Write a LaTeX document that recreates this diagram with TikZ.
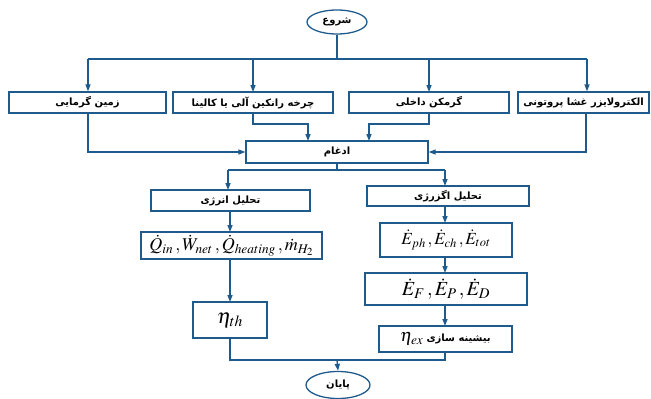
\documentclass[tikz,border=0pt]{standalone}
\usepackage{mathptmx}
\usepackage{fontspec}
\usetikzlibrary{shapes.geometric,arrows.meta}
\TeXXeTstate=1
\newfontfamily\fa[Script=Arabic]{DejaVu Sans}
\definecolor{lineblue}{HTML}{1F5A8C}
\newcommand{\fatext}[1]{{\fa\bfseries\fontsize{10}{12}\selectfont\beginR #1\endR}}
\tikzset{
  box/.style={draw=lineblue, line width=1.3pt, rectangle, inner sep=0pt, anchor=center},
  term/.style={draw=lineblue, line width=1.3pt, ellipse, inner sep=0pt},
  conn/.style={draw=lineblue, line width=1.3pt},
  arr/.style={conn, -{Triangle[length=7pt,width=5pt]}}
}
\begin{document}
\begin{tikzpicture}[x=1pt,y=-1pt]
\useasboundingbox (0,0) rectangle (651,399);
% terminals
\node[term, minimum width=60pt, minimum height=24pt] (start) at (337,22) {\fatext{شروع}};
\node[term, minimum width=64pt, minimum height=27pt] (finish) at (338,385) {\fatext{پایان}};
% top row
\node[box, minimum width=157pt, minimum height=21pt] (b1) at (87.5,102.5) {\fatext{زمین گرمایی}};
\node[box, minimum width=160pt, minimum height=21pt] (b2) at (253,102.5) {\fatext{چرخه رانکین آلی یا کالینا}};
\node[box, minimum width=160pt, minimum height=21pt] (b3) at (429,102.5) {\fatext{گرمکن داخلی}};
\node[box, minimum width=131pt, minimum height=21pt] (b4) at (583.5,102.5) {\fatext{الکترولایزر غشا پروتونی}};
% merge
\node[box, minimum width=182pt, minimum height=22pt] (merge) at (337,152) {\fatext{ادغام}};
% analyses
\node[box, minimum width=159pt, minimum height=21pt] (energy) at (230.5,200.5) {\fatext{تحلیل انرژی}};
\node[box, minimum width=162pt, minimum height=20pt] (exergy) at (448,196) {\fatext{تحلیل اگزرژی}};
\node[box, font=\fontsize{18}{20}\selectfont, minimum width=181pt, minimum height=27pt] (qbox) at (231.5,245.5) {$\dot{Q}_{in}\,,\dot{W}_{net}\,,\dot{Q}_{heating}\,,\dot{m}_{H_2}$};
\node[box, font=\fontsize{21}{23}\selectfont, minimum width=74pt, minimum height=36pt] (etath) at (230,320) {$\eta_{th}$};
\node[box, font=\fontsize{17}{19}\selectfont, minimum width=132pt, minimum height=34pt] (ebox) at (446,240) {$\dot{E}_{ph}\,,\dot{E}_{ch}\,,\dot{E}_{tot}$};
\node[box, font=\fontsize{20}{22}\selectfont, minimum width=162pt, minimum height=32pt] (efbox) at (446,289) {$\dot{E}_{F}\,,\dot{E}_{P}\,,\dot{E}_{D}$};
\node[box, minimum width=133pt, minimum height=26pt] (etaex) at (445.5,339) {{\fontsize{18}{20}\selectfont$\eta_{ex}$}\ \fatext{بیشینه سازی}};
% coordinates
\coordinate (top) at (337,59);
\coordinate (tl) at (88,59);
\coordinate (tr) at (587,59);
\coordinate (mid) at (337,170);
% start to row
\draw[conn] (start.south) -- (top);
\draw[conn] (tl) -- (tr);
\draw[arr] (tl) -- (tl |- b1.north);
\draw[arr] (253,59) -- (253,92);
\draw[arr] (429,59) -- (429,92);
\draw[arr] (tr) -- (tr |- b4.north);
% row to merge
\draw[arr] (88,113) -- (88,152) -- (merge.west);
\draw[arr] (586,113) -- (586,152) -- (merge.east);
\draw[arr] (253,113) -- (253,124) -- (308,124) -- (308,141);
\draw[arr] (429,113) -- (429,124) -- (369,124) -- (369,141);
% merge to analyses
\draw[conn] (merge.south) -- (mid);
\draw[conn] (228,170) -- (445,170);
\draw[arr] (228,170) -- (228,190);
\draw[arr] (445,170) -- (445,186);
% energy chain
\draw[arr] (230,211) -- (230,232);
\draw[arr] (230,259) -- (230,302);
% exergy chain
\draw[arr] (445,206) -- (445,223);
\draw[arr] (445,257) -- (445,273);
\draw[arr] (445,305) -- (445,326);
% bottom join
\draw[conn] (230,338) -- (230,360) -- (445,360) -- (445,352);
\draw[arr] (337,360) -- (finish.north);
\end{tikzpicture}
\end{document}
